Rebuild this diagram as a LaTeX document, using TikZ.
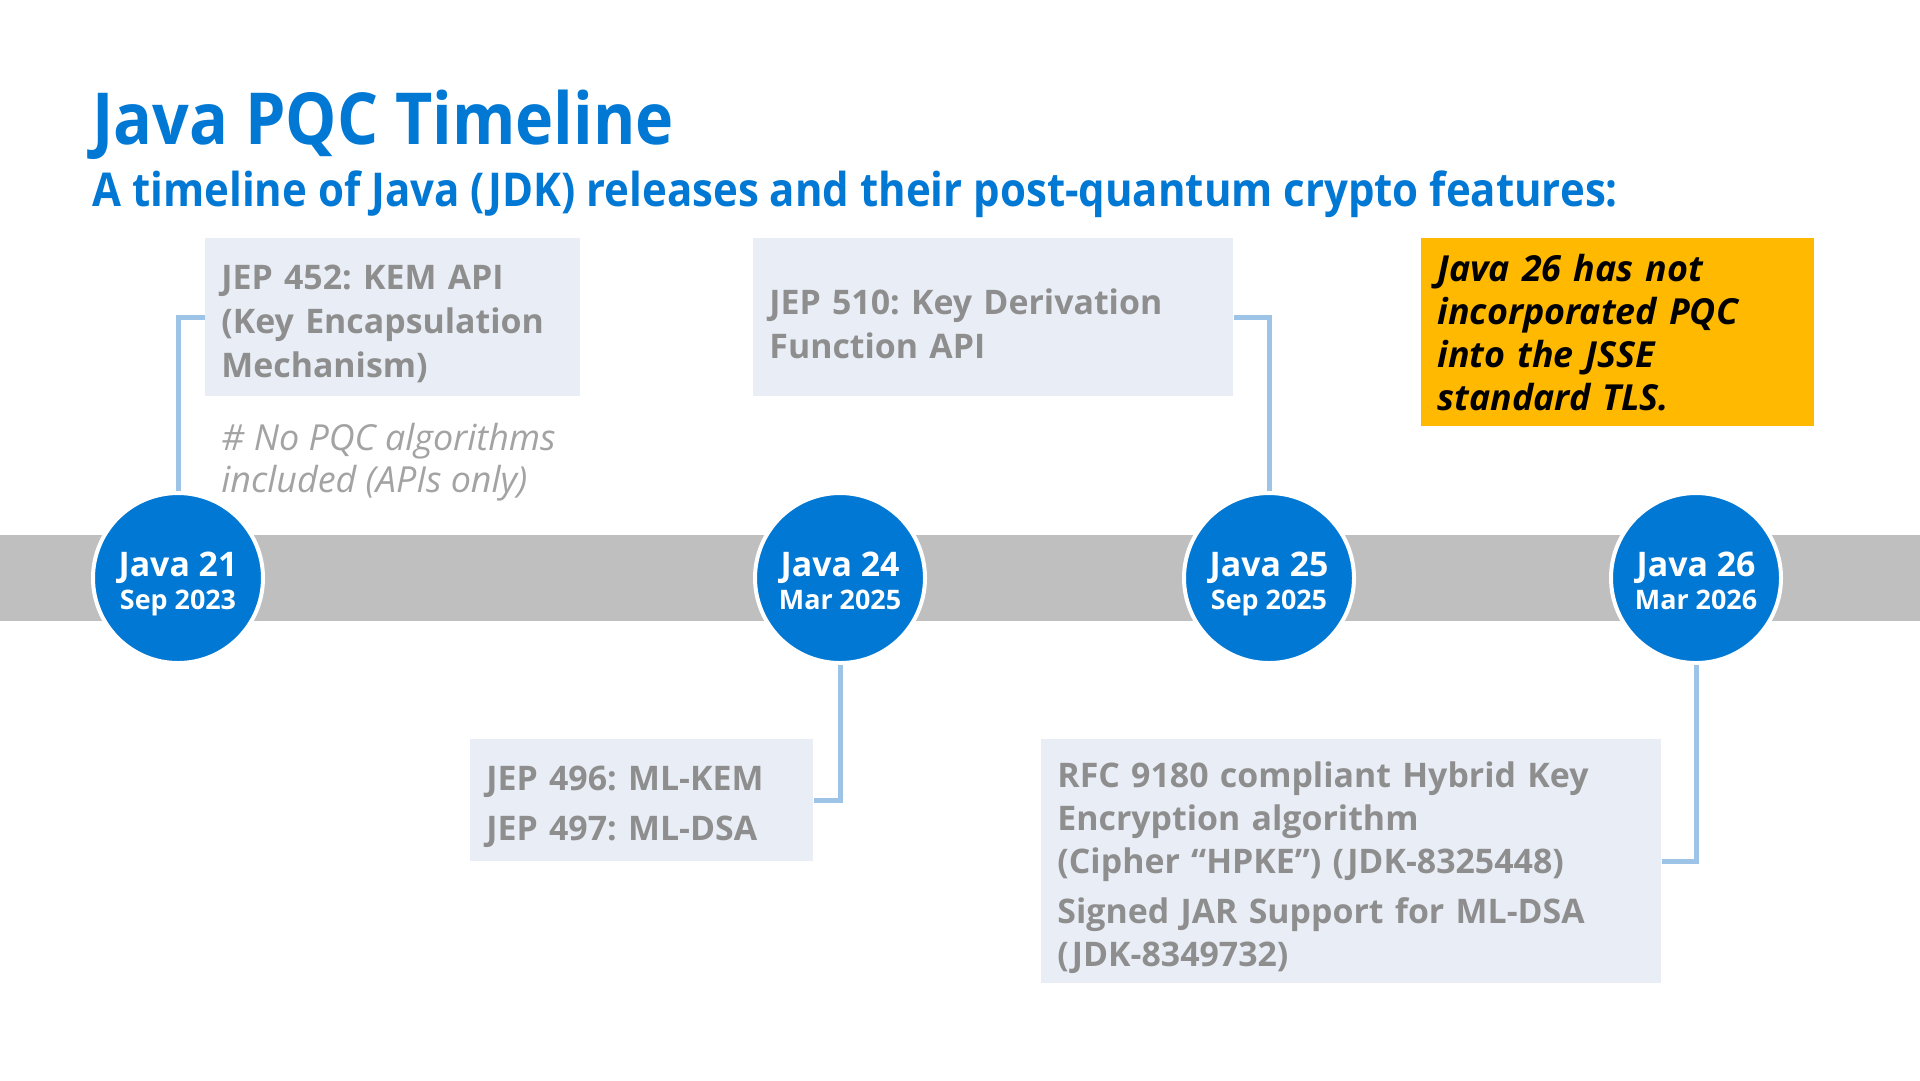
\documentclass[tikz,border=0pt]{standalone}
\usepackage{fontspec}
\setmainfont{Open Sans}
\newfontfamily\headfont{Open Sans}[FakeStretch=0.9]
\usepackage{xcolor}
\usetikzlibrary{positioning}
\definecolor{msblue}{HTML}{0078D4}
\definecolor{bandgray}{HTML}{BFBFBF}
\definecolor{featbg}{HTML}{E9EEF6}
\definecolor{featgray}{HTML}{8E8E8E}
\definecolor{notegray}{HTML}{A3A3A3}
\definecolor{linkblue}{HTML}{9DC3E6}
\definecolor{warnorange}{HTML}{FFB900}
\frenchspacing

\begin{document}
\begin{tikzpicture}[x=0.5bp, y=-0.5bp,
  rel/.style={circle, fill=msblue, draw=white, line width=2bp, minimum size=85bp,
    inner sep=0pt, text=white, align=center, font=\bfseries\fontsize{13.5}{16.5}\selectfont},
  feat/.style={fill=featbg, text=featgray, anchor=north west, align=left,
    inner xsep=8bp, inner ysep=0pt, font=\bfseries\fontsize{17}{22}\selectfont,
    execute at begin node=\rule{0pt}{19bp}},
  note/.style={text=notegray, align=left, inner sep=0pt, font=\itshape\fontsize{18}{21}\selectfont},
  warn/.style={fill=warnorange, text=black, anchor=north west, align=left,
    inner xsep=8bp, inner ysep=0pt, text width=180.5bp, minimum height=94bp,
    font=\bfseries\itshape\fontsize{18}{21.5}\selectfont},
  link/.style={draw=linkblue, line width=2.5bp}]
  \fill[white] (0,0) rectangle (1920,1080);
  \useasboundingbox (0,0) rectangle (1920,1080);

  \node[anchor=base west, inner sep=0pt, text=msblue, font=\headfont\bfseries\fontsize{36}{40}\selectfont]
    (title) at (92,144) {Java PQC Timeline};
  \node[anchor=base west, inner sep=0pt, text=msblue, font=\headfont\bfseries\fontsize{23.4}{28}\selectfont]
    (subtitle) at (92,206) {A timeline of Java (JDK) releases and their post-quantum crypto features:};

  \fill[bandgray] (0,535) rectangle (1920,621);

  \foreach \n/\x/\d in {21/178/Sep 2023, 24/840/Mar 2025, 25/1269/Sep 2025, 26/1696/Mar 2026}
    \node[rel] (j\n) at (\x,578) {\rule{0pt}{18bp}{\fontsize{17}{17}\selectfont Java \n}\\\d\vphantom{p}};

  \node[feat, text width=171.5bp, minimum height=79bp] (jep452) at (205,238)
    {JEP 452: KEM API\\(Key Encapsulation\\Mechanism)};
  \node[note, below=13bp of jep452.south west, anchor=north west, xshift=8bp] (nopqc)
    {\# No PQC algorithms\\included (APIs only)};
  \node[feat, text width=224bp, minimum height=79bp] (jep510) at (753,238)
    {JEP 510: Key Derivation\\Function API};
  \node[warn] (jsse) at (1421,238)
    {Java 26 has not\\incorporated PQC\\into the JSSE\\standard TLS.};
  \node[feat, text width=155.5bp, minimum height=61bp] (jep496) at (470,739)
    {JEP 496: ML-KEM\\[3bp]JEP 497: ML-DSA};
  \node[feat, text width=294bp, minimum height=122bp, font=\bfseries\fontsize{17}{21.5}\selectfont] (hpke) at (1041,739)
    {RFC 9180 compliant Hybrid Key\\Encryption algorithm\\(Cipher “HPKE”) (JDK-8325448)\\[3.5bp]Signed JAR Support for ML-DSA\\(JDK-8349732)};

  \draw[link] (jep452.west) -| (j21.north);
  \draw[link] (jep510.east) -| (j25.north);
  \draw[link] (j24.south) |- (jep496.east);
  \draw[link] (j26.south) |- (hpke.east);
\end{tikzpicture}
\end{document}
